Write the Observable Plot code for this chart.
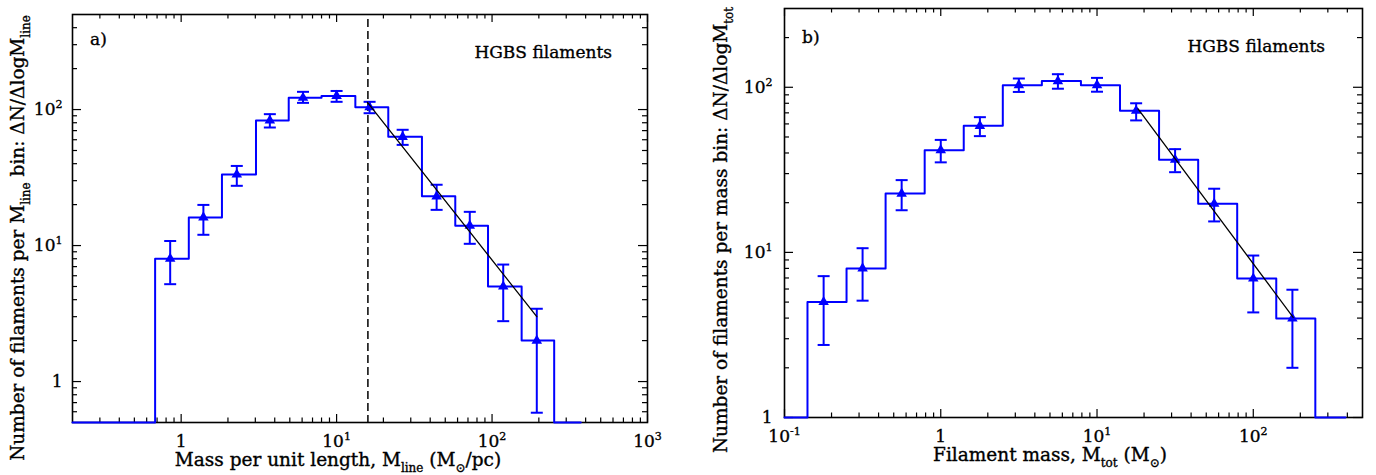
<!DOCTYPE html>
<html><head><meta charset="utf-8">
<script src="https://cdn.jsdelivr.net/npm/d3@7"></script>
<script src="https://cdn.jsdelivr.net/npm/@observablehq/plot@0.6"></script>
<style>
body{margin:0;background:#fff;}
#wrap{position:relative;width:1376px;height:475px;overflow:hidden;background:#fff;}
#wrap svg{position:absolute;top:0;}
#wrap svg text{stroke:black;stroke-width:0.35px;}
</style></head><body><div id="wrap"></div>
<script>
// ---------- Panel a: mass per unit length ----------
const edgesA = [0.68, 1.12, 1.83, 3.03, 4.92, 8.0, 13.2, 21.5, 35.4, 58.0, 94.2, 155, 251];
const xA = [0.85, 1.39, 2.28, 3.72, 6.08, 10.0, 16.3, 26.6, 44.0, 71.9, 118, 194];
const yA = [8.0, 16.1, 33.3, 83, 122, 126, 104, 63, 23, 14.0, 5.0, 2.0];
const hiA = [10.8, 19.9, 38.5, 92.5, 135, 137, 114, 71, 28, 17.7, 7.25, 3.43];
const loA = [5.2, 12.0, 27.5, 73.8, 112, 114, 94, 55, 18.3, 10.3, 2.78, 0.59];
const histEndA = 372;
const fitXA = [15.8, 194];
const fitYA = [113, 3.0];
const dashXA = 15.9;
const xTicksA = [1, 10, 100, 1000];
const yTicksA = [1, 10, 100];

// ---------- Panel b: total filament mass ----------
const edgesB = [0.1403, 0.2495, 0.4436, 0.789, 1.403, 2.495, 4.436, 7.89, 14.03, 24.95, 44.4, 78.9, 140.3, 249.5];
const xB = [0.178, 0.316, 0.562, 1.0, 1.78, 3.16, 5.62, 10, 17.8, 31.6, 56.2, 100, 178];
const yB = [5.0, 8.0, 22.7, 41.6, 58.4, 103, 109, 103, 72, 36.4, 19.7, 6.95, 3.98];
const hiB = [7.18, 10.6, 27.4, 48, 65.9, 113, 120, 114, 80, 42.2, 24.3, 9.57, 5.94];
const loB = [2.75, 5.1, 18.0, 35.1, 50.6, 93.7, 98, 94, 63, 30.6, 15.4, 4.33, 2.0];
const histEndB = 389;
const fitXB = [18.3, 180];
const fitYB = [74, 4.04];
const xTicksB = [0.1, 1, 10, 100];
const yTicksB = [1, 10, 100];

const W = 688, H = 475, FS = 17, TS = 18.5, FONT = "DejaVu Serif";
const BLUE = "#0000ff";

const capSymbol = {draw(ctx, size) { const r = Math.sqrt(size / Math.PI); ctx.moveTo(-r, 0); ctx.lineTo(r, 0); }};
const fmt = d => d === 1 ? "1" : "10^" + Math.round(Math.log10(d));

function minorTicks(dom) {
  const out = [];
  for (let e = Math.floor(Math.log10(dom[0])); e <= Math.ceil(Math.log10(dom[1])); e++)
    for (let m = 2; m <= 9; m++) { const v = m * Math.pow(10, e); if (v > dom[0] * 1.0001 && v < dom[1] * 0.9999) out.push(v); }
  return out;
}

function panel(c) {
  const iw = W - c.mL - c.mR, ih = H - c.mT - c.mB;
  const n = c.edges.length;
  const hist = [{x: c.xDom[0], y: c.yDom[0]}]
    .concat(c.edges.slice(0, -1).map((e, i) => ({x: e, y: c.ys[i]})))
    .concat([{x: c.edges[n - 1], y: c.yDom[0]}, {x: c.histEnd, y: c.yDom[0]}]);
  const pts = c.xs.map((x, i) => ({x, y: c.ys[i], hi: c.hi[i], lo: c.lo[i]}));
  const fit = c.fitX.map((x, i) => ({x, y: c.fitY[i]}));
  const xMin = minorTicks(c.xDom), yMin = minorTicks(c.yDom);
  const tk = {stroke: "black", strokeWidth: 1.2};
  const marks = [
    Plot.frame({stroke: "black", strokeWidth: 1.6}),
    Plot.tickX(c.xMaj, {x: d => d, insetTop: ih - 8, ...tk}),
    Plot.tickX(c.xMaj, {x: d => d, insetBottom: ih - 8, ...tk}),
    Plot.tickX(xMin, {x: d => d, insetTop: ih - 4.5, ...tk}),
    Plot.tickX(xMin, {x: d => d, insetBottom: ih - 4.5, ...tk}),
    Plot.tickY(c.yMaj, {y: d => d, insetRight: iw - 9, ...tk}),
    Plot.tickY(c.yMaj, {y: d => d, insetLeft: iw - 9, ...tk}),
    Plot.tickY(yMin, {y: d => d, insetRight: iw - 5, ...tk}),
    Plot.tickY(yMin, {y: d => d, insetLeft: iw - 5, ...tk}),
  ];
  if (c.dashX) marks.push(Plot.ruleX([c.dashX], {x: d => d, stroke: "black", strokeWidth: 1.5, strokeDasharray: "8,4", insetTop: 5}));
  marks.push(
    Plot.line(hist, {x: "x", y: "y", curve: "step-after", stroke: BLUE, strokeWidth: 2}),
    Plot.ruleX(pts, {x: "x", y1: "lo", y2: "hi", stroke: BLUE, strokeWidth: 2}),
    Plot.dot(pts, {x: "x", y: "hi", symbol: capSymbol, r: 6, stroke: BLUE, strokeWidth: 2, fill: "none"}),
    Plot.dot(pts, {x: "x", y: "lo", symbol: capSymbol, r: 6, stroke: BLUE, strokeWidth: 2, fill: "none"}),
    Plot.dot(pts, {x: "x", y: "y", symbol: "triangle", r: 3.9, fill: BLUE, stroke: "none"}),
    Plot.line(fit, {x: "x", y: "y", stroke: "black", strokeWidth: 1.3}),
    Plot.axisX(c.xMaj, {tickSize: 0, tickPadding: c.xPad, tickFormat: fmt, label: null}),
    Plot.axisY(c.yMaj, {tickSize: 0, tickPadding: c.yPad, tickFormat: fmt, label: null})
  );
  const svg = Plot.plot({
    width: W, height: H,
    marginLeft: c.mL, marginRight: c.mR, marginTop: c.mT, marginBottom: c.mB,
    x: {type: "log", domain: c.xDom, label: null},
    y: {type: "log", domain: c.yDom, label: null},
    style: {fontFamily: FONT, fontSize: FS + "px", color: "black", background: "transparent", overflow: "visible"},
    marks
  });
  svg.style.left = c.left + "px";
  const s = d3.select(svg);
  s.selectAll('g[aria-label$="tick label"] text').each(function() {
    const t = this.textContent, i = t.indexOf("^");
    if (i < 0) return;
    const sel = d3.select(this);
    sel.text(null);
    sel.append("tspan").text(t.slice(0, i));
    sel.append("tspan").attr("dy", "-7").attr("font-size", "11px").text(t.slice(i + 1));
  });
  function addText(x, y, parts, opts = {}) {
    const fs = opts.size || FS;
    const sub = Math.round(fs * 0.65), sh = Math.round(fs * 0.3);
    const t = s.append("text").attr("font-family", FONT).attr("font-size", fs).attr("fill", "black")
      .attr("text-anchor", opts.anchor || "start")
      .attr("transform", `translate(${x},${y})` + (opts.rotate ? ` rotate(${opts.rotate})` : ""));
    let shifted = false;
    parts.forEach(([str, kind]) => {
      const sp = t.append("tspan").text(str);
      if (kind === "sub") { sp.attr("font-size", sub).attr("dy", shifted ? 0 : sh); shifted = true; }
      else { if (shifted) sp.attr("dy", -sh); shifted = false; }
    });
  }
  c.texts.forEach(d => addText(...d));
  document.getElementById("wrap").appendChild(svg);
}

panel({
  left: 0, mL: 72, mR: 41, mT: 14, mB: 53, xPad: 12, yPad: 10,
  xDom: [0.2, 1000], yDom: [0.5, 500], xMaj: xTicksA, yMaj: yTicksA,
  edges: edgesA, xs: xA, ys: yA, hi: hiA, lo: loA, histEnd: histEndA,
  fitX: fitXA, fitY: fitYA, dashX: dashXA,
  texts: [
    [338, 466, [["Mass per unit length, M"], ["line", "sub"], [" (M"], ["\u2299", "sub"], ["/pc)"]], {anchor: "middle", size: TS}],
    [24, 238, [["Number of filaments per M"], ["line", "sub"], [" bin: \u0394N/\u0394logM"], ["line", "sub"]], {anchor: "middle", rotate: -90, size: TS}],
    [90, 45, [["a)"]]],
    [612, 58, [["HGBS filaments"]], {anchor: "end"}]
  ]
});

panel({
  left: 688, mL: 96, mR: 14, mT: 8, mB: 58, xPad: 12, yPad: 12,
  xDom: [0.1, 500], yDom: [1, 300], xMaj: xTicksB, yMaj: yTicksB,
  edges: edgesB, xs: xB, ys: yB, hi: hiB, lo: loB, histEnd: histEndB,
  fitX: fitXB, fitY: fitYB, dashX: null,
  texts: [
    [362, 461, [["Filament mass, M"], ["tot", "sub"], [" (M"], ["\u2299", "sub"], [")"]], {anchor: "middle", size: TS}],
    [39, 230, [["Number of filaments per mass bin: \u0394N/\u0394logM"], ["tot", "sub"]], {anchor: "middle", rotate: -90, size: TS}],
    [114, 43, [["b)"]]],
    [637, 52, [["HGBS filaments"]], {anchor: "end"}]
  ]
});
</script></body></html>
